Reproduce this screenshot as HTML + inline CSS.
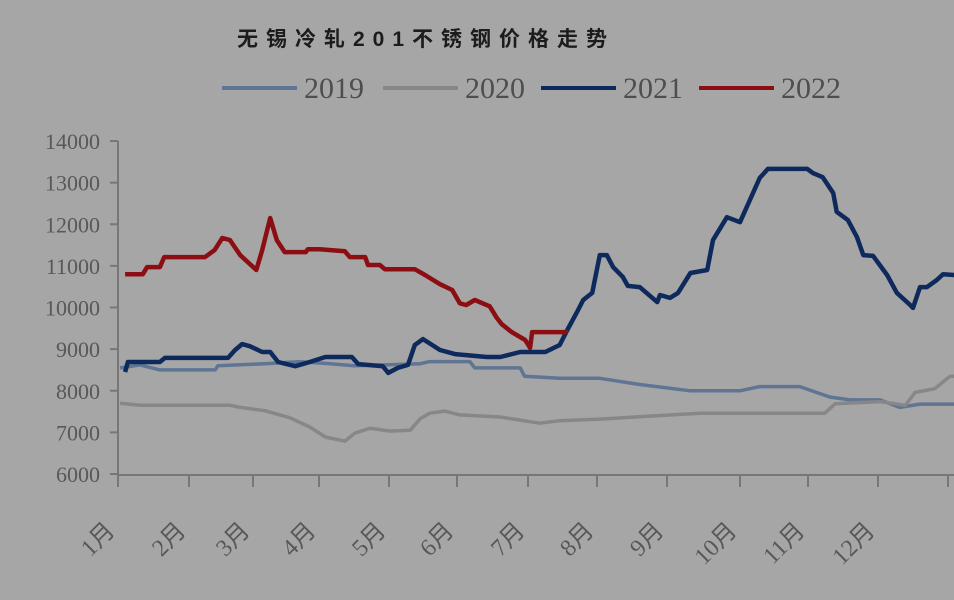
<!DOCTYPE html>
<html><head><meta charset="utf-8"><style>
body{margin:0;background:#a6a6a6;width:954px;height:600px;overflow:hidden}
svg{display:block}
</style></head><body>
<svg id="chart" width="954" height="600" xmlns="http://www.w3.org/2000/svg">
<rect width="954" height="600" fill="#a6a6a6"/>
<text x="237" y="46" font-family="'Liberation Sans','Noto Sans CJK SC',sans-serif" font-size="21" font-weight="bold" fill="#1c1c1c" letter-spacing="8">无锡冷轧201不锈钢价格走势</text>
<g id="legend"></g>
<g id="axes"></g>
<g id="series"></g>
</svg>
<script>
const categories=["1月","2月","3月","4月","5月","6月","7月","8月","9月","10月","11月","12月"];
const yTicks=[6000,7000,8000,9000,10000,11000,12000,13000,14000];
const seriesNames=["2019","2020","2021","2022"];
const s2019=[[0.03,8550],[0.31,8620],[0.59,8500],[1.41,8500],[1.45,8600],[2.18,8650],[2.71,8700],[3.16,8650],[3.5,8600],[4.46,8650],[4.6,8700],[5.18,8700],[5.25,8550],[5.89,8550],[5.95,8350],[6.46,8300],[7.04,8300],[7.61,8150],[8.32,8000],[9.0,8000],[9.29,8100],[9.88,8100],[10.31,7850],[10.6,7780],[11.03,7780],[11.31,7600],[11.6,7680],[12.09,7680]];
const s2020=[[0.03,7700],[0.31,7650],[1.64,7650],[1.8,7600],[2.18,7520],[2.56,7350],[2.86,7130],[3.09,6890],[3.37,6790],[3.51,6980],[3.73,7100],[4.01,7030],[4.31,7050],[4.46,7330],[4.6,7460],[4.82,7510],[5.04,7420],[5.61,7370],[6.17,7220],[6.46,7280],[7.04,7320],[7.76,7390],[8.45,7460],[8.73,7460],[10.24,7460],[10.39,7690],[11.03,7740],[11.39,7650],[11.53,7960],[11.81,8050],[12.03,8350],[12.09,8350]];
const s2021=[[0.1,8450],[0.14,8690],[0.59,8690],[0.66,8790],[1.61,8790],[1.72,8980],[1.83,9120],[1.95,9070],[2.14,8930],[2.26,8930],[2.38,8690],[2.64,8590],[2.86,8690],[3.09,8810],[3.47,8810],[3.56,8640],[3.91,8590],[3.99,8430],[4.13,8550],[4.28,8620],[4.38,9100],[4.5,9240],[4.75,8980],[4.97,8880],[5.42,8810],[5.61,8810],[5.89,8930],[6.25,8930],[6.46,9100],[6.57,9460],[6.71,9890],[6.8,10180],[6.93,10350],[7.04,11260],[7.14,11260],[7.23,10970],[7.37,10730],[7.44,10520],[7.61,10490],[7.86,10130],[7.9,10300],[8.04,10230],[8.15,10350],[8.32,10830],[8.55,10900],[8.63,11620],[8.82,12170],[9.0,12050],[9.29,13110],[9.41,13330],[9.99,13330],[10.07,13230],[10.21,13130],[10.36,12750],[10.41,12300],[10.57,12100],[10.7,11690],[10.79,11260],[10.93,11240],[11.13,10780],[11.27,10350],[11.46,10060],[11.5,9990],[11.6,10490],[11.7,10490],[11.84,10660],[11.93,10800],[12.09,10780]];
const s2022=[[0.1,10800],[0.35,10800],[0.41,10970],[0.59,10970],[0.65,11210],[1.25,11210],[1.4,11380],[1.52,11670],[1.64,11620],[1.8,11260],[2.05,10900],[2.14,11380],[2.26,12150],[2.36,11620],[2.48,11330],[2.8,11330],[2.83,11400],[3.01,11400],[3.37,11350],[3.44,11210],[3.66,11210],[3.7,11020],[3.87,11020],[3.94,10920],[4.38,10920],[4.53,10780],[4.75,10560],[4.93,10420],[5.04,10100],[5.13,10060],[5.25,10180],[5.46,10030],[5.56,9750],[5.63,9600],[5.77,9410],[5.96,9220],[6.03,9030],[6.06,9410],[6.58,9410]];

const NS="http://www.w3.org/2000/svg";
const tickX=[118,189,253,319,389,457,528,597,667,740,808,878,948];
function xScale(m){let i=Math.max(0,Math.min(11,Math.floor(m)));return tickX[i]+(m-i)*(tickX[i+1]-tickX[i]);}
function yScale(v){return 474-(v-6000)*(474-141)/8000;}
function mk(tag,attrs,parent){const e=document.createElementNS(NS,tag);for(const k in attrs)e.setAttribute(k,attrs[k]);parent.appendChild(e);return e;}
const axes=document.getElementById('axes');
const ser=document.getElementById('series');
const leg=document.getElementById('legend');
const axisC="#777";
let ya=mk('line',{x1:118,y1:141,x2:118,y2:475,stroke:axisC,'stroke-width':2},axes);


let xa=mk('line',{x1:117,y1:475,x2:954,y2:475,stroke:axisC,'stroke-width':2},axes);


yTicks.forEach(v=>{
  const y=yScale(v);
  mk('line',{x1:110,y1:y,x2:118,y2:y,stroke:axisC,'stroke-width':2},axes);
  const t=mk('text',{x:100,y:y+8,'text-anchor':'end','font-family':"'Liberation Serif',serif",'font-size':22,fill:'#585858'},axes);
  t.textContent=v;
  
  
});
tickX.forEach(x=>{mk('line',{x1:x,y1:475,x2:x,y2:487,stroke:axisC,'stroke-width':2},axes);});
categories.forEach((c,i)=>{
  const x=tickX[i]-2,y=532;
  const t=mk('text',{x:x,y:y,'text-anchor':'end','font-family':"'Liberation Serif','Noto Sans CJK SC',serif",'font-size':24,fill:'#585858',transform:`rotate(-45 ${x} ${y})`},axes);
  t.textContent=c;
  
  
});
const colors=["#5f7593","#878787","#0e2a5c","#8c0d12"];
const allSeries=[s2019,s2020,s2021,s2022];
allSeries.forEach((s,i)=>{
  const p=mk('polyline',{points:s.map(d=>xScale(d[0]).toFixed(1)+','+yScale(d[1]).toFixed(1)).join(' '),fill:'none',stroke:colors[i],'stroke-width':i>=2?4.5:3.5,'stroke-linejoin':'round'},ser);
  
  
});
const legX=[222,383,541,699];
seriesNames.forEach((n,i)=>{
  const g=mk('g',{},leg);
  
  
  mk('line',{x1:legX[i],y1:88,x2:legX[i]+75,y2:88,stroke:colors[i],'stroke-width':4},g);
  const t=mk('text',{x:legX[i]+82,y:98,'font-family':"'Liberation Serif',serif",'font-size':30,fill:'#4e4e4e'},g);
  t.textContent=n;
});
</script>
</body></html>
